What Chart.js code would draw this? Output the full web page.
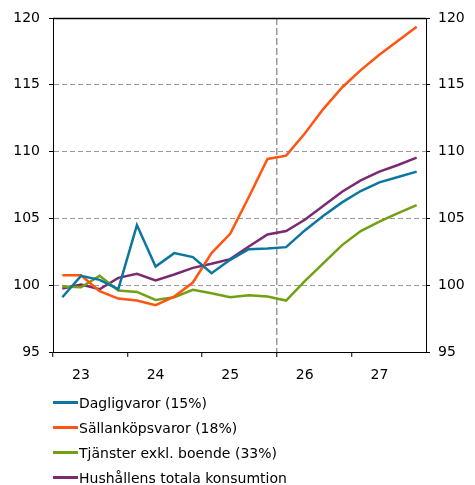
<!DOCTYPE html>
<html lang="sv">
<head>
<meta charset="utf-8">
<script src="https://cdn.jsdelivr.net/npm/chart.js@4.4.1/dist/chart.umd.min.js"></script>
<style>
    html, body { margin: 0; padding: 0; background: #fff; }
    #wrap { position: relative; width: 475px; height: 485px; }
    #legend { position: absolute; left: 53px; top: 390px; font-family: 'DejaVu Sans', Verdana, sans-serif; font-size: 14px; color: #000; }
    #legend .rad { height: 25px; display: flex; align-items: center; white-space: nowrap; }
    #legend .linje { width: 25px; height: 3px; margin-right: 1px; }
</style>
</head>
<body>
<div id="wrap">
    <canvas id="diagram" width="475" height="485"></canvas>
    <div id="legend"></div>
</div>
<script>
// Kvartal 2023 - 2027
const kvartal = [
    '23K1', '23K2', '23K3', '23K4',
    '24K1', '24K2', '24K3', '24K4',
    '25K1', '25K2', '25K3', '25K4',
    '26K1', '26K2', '26K3', '26K4',
    '27K1', '27K2', '27K3', '27K4'
];
// Etiketter under x-axeln (en per kvartal)
const xEtiketter = [
    '', '23', '', '', '', '24', '', '', '', '25', '', '',
    '', '26', '', '', '', '27', '', ''
];
const yTicks = [95, 100, 105, 110, 115, 120];

// Serier
const dagligvaror = [99.1, 100.7, 100.4, 99.7, 104.5, 101.4, 102.4, 102.1, 100.9, 101.9, 102.7, 102.75, 102.85, 104.1, 105.2, 106.2, 107.05, 107.7, 108.1, 108.5];
const sallankopsvaror = [100.75, 100.75, 99.55, 99.0, 98.85, 98.5, 99.15, 100.2, 102.4, 103.85, 106.6, 109.45, 109.7, 111.35, 113.2, 114.8, 116.1, 117.25, 118.3, 119.35];
const tjanster = [99.9, 99.85, 100.7, 99.6, 99.5, 98.9, 99.1, 99.65, 99.4, 99.1, 99.25, 99.15, 98.85, 100.3, 101.65, 103.0, 104.05, 104.75, 105.4, 106.0];
const hushall = [99.75, 100.05, 99.7, 100.55, 100.85, 100.35, 100.8, 101.3, 101.6, 101.95, 102.9, 103.8, 104.05, 104.9, 105.95, 107.0, 107.85, 108.5, 109.0, 109.55];

const serier = [
    { namn: 'Dagligvaror (15%)', data: dagligvaror, farg: '#0b77a1' },
    { namn: 'Sällanköpsvaror (18%)', data: sallankopsvaror, farg: '#ff5510' },
    { namn: 'Tjänster exkl. boende (33%)', data: tjanster, farg: '#72a012' },
    { namn: 'Hushållens totala konsumtion', data: hushall, farg: '#7b2a72' }
];

Chart.defaults.font.family = "'DejaVu Sans', Verdana, sans-serif";
Chart.defaults.font.size = 14;
Chart.defaults.color = '#000';

const gridFarg = '#999';

// Svart linje överst i diagramytan
const ramTopp = {
    id: 'ramTopp',
    afterDraw(chart) {
        const area = chart.chartArea;
        const c = chart.ctx;
        c.save();
        c.strokeStyle = '#000';
        c.lineWidth = 1.5;
        c.setLineDash([]);
        c.beginPath();
        c.moveTo(area.left, area.top + 0.5);
        c.lineTo(area.right, area.top + 0.5);
        c.stroke();
        c.restore();
    }
};

const ctx = document.getElementById('diagram').getContext('2d');
const diagram = new Chart(ctx, {
    type: 'line',
    data: {
        labels: kvartal,
        datasets: serier.map(s => ({
            label: s.namn,
            data: s.data,
            borderColor: s.farg,
            backgroundColor: s.farg,
            borderWidth: 2.5,
            pointRadius: 0,
            tension: 0,
            yAxisID: 'y'
        }))
    },
    options: {
        responsive: false,
        animation: false,
        layout: { padding: { top: 18, bottom: 93, left: 0, right: 0 } },
        plugins: {
            legend: { display: false },
            tooltip: { enabled: false }
        },
        scales: {
            x: {
                type: 'category',
                offset: true,
                grid: {
                    offset: true,
                    drawOnChartArea: true,
                    lineWidth: 1.5,
                    color: c => c.index === 12 ? gridFarg : 'rgba(0,0,0,0)',
                    tickColor: c => (c.index !== undefined && c.index % 4 === 0) ? '#000' : 'rgba(0,0,0,0)',
                    tickLength: 5,
                    tickWidth: 1
                },
                border: { display: true, color: '#000', width: 1, dash: [7, 3] },
                ticks: {
                    autoSkip: false,
                    maxRotation: 0,
                    padding: 10,
                    callback: (v, i) => xEtiketter[i]
                },
                afterFit: s => { s.height = 40; }
            },
            y: {
                position: 'left',
                min: 95,
                max: 120,
                afterBuildTicks: s => { s.ticks = yTicks.map(v => ({ value: v })); },
                grid: {
                    color: c => (c.tick && (c.tick.value === 95 || c.tick.value === 120)) ? 'rgba(0,0,0,0)' : gridFarg,
                    lineWidth: 1,
                    tickColor: '#000',
                    tickLength: 4
                },
                border: { display: true, color: '#000', width: 1, dash: [5, 3] },
                ticks: { padding: 9 },
                afterFit: s => { s.width = 53; }
            },
            y2: {
                position: 'right',
                min: 95,
                max: 120,
                afterBuildTicks: s => { s.ticks = yTicks.map(v => ({ value: v })); },
                grid: {
                    drawOnChartArea: false,
                    tickColor: '#000',
                    tickLength: 4
                },
                border: { display: true, color: '#000', width: 1 },
                ticks: { padding: 8 },
                afterFit: s => { s.width = 49; }
            }
        }
    },
    plugins: [ramTopp]
});

// Bygga förklaringen under diagrammet
const legend = document.getElementById('legend');
serier.forEach(s => {
    const rad = document.createElement('div');
    rad.className = 'rad';
    rad.innerHTML = `<span class="linje" style="background:${s.farg}"></span><span>${s.namn}</span>`;
    legend.appendChild(rad);
});
</script>
</body>
</html>
